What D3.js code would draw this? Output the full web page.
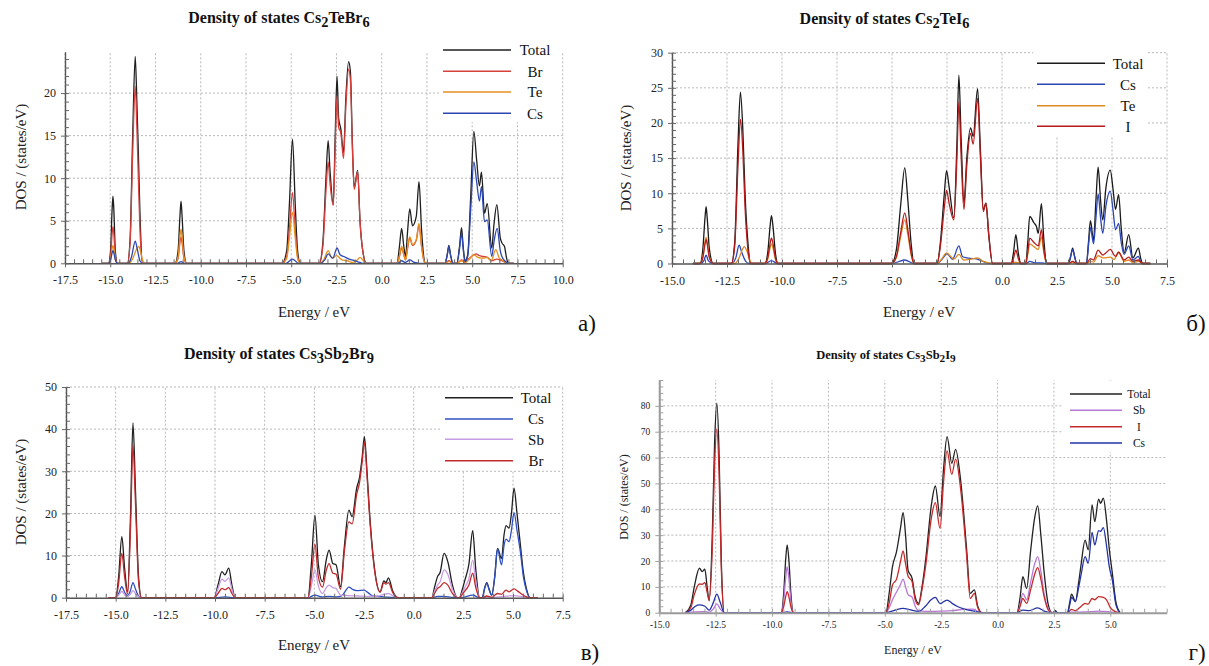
<!DOCTYPE html>
<html>
<head>
<meta charset="utf-8">
<script src="https://cdn.jsdelivr.net/npm/d3@7"></script>
<style>
  html, body { margin: 0; padding: 0; background: #fff; }
  svg { display: block; }
</style>
</head>
<body>
<div id="chart"></div>
<script>
// ---- panel a) Cs2TeBr6 : [energy eV, DOS states/eV]
const totalA = [[-15.45,0],[-15.1,0],[-14.98,1.5],[-14.9,6.2],[-14.85,7.9],[-14.8,6.2],[-14.72,1.5],[-14.6,0],
  [-14.05,0],[-13.9,3],[-13.76,15],[-13.62,24.3],[-13.53,19],[-13.46,14],[-13.36,6],[-13.22,0],
  [-11.42,0],[-11.25,1.5],[-11.15,5.5],[-11.09,7.3],[-11.03,5.5],[-10.93,1.5],[-10.78,0],
  [-5.5,0],[-5.25,1.5],[-5.1,7],[-4.93,14.6],[-4.78,7],[-4.65,1.5],[-4.5,0],
  [-3.45,0],[-3.25,2.5],[-3.08,10],[-2.96,14.4],[-2.86,11],[-2.68,6.9],[-2.57,15],[-2.47,22],[-2.38,17],[-2.26,15.8],[-2.11,13],[-1.98,19.5],[-1.83,23.7],[-1.73,22.5],[-1.62,14],[-1.52,8.9],[-1.33,10.9],[-1.2,5],[-1.05,1.5],[-0.85,0],
  [0.85,0],[0.98,2],[1.1,4.1],[1.22,2],[1.32,0.8],[1.42,3.5],[1.55,6.4],[1.7,4.4],[1.91,5.5],[2.06,9.6],[2.2,4],[2.32,0.8],[2.42,0],
  [3.5,0],[3.62,1],[3.71,2.1],[3.8,1],[3.94,0],[4.15,0],[4.3,2],[4.41,4.2],[4.5,2],[4.6,0.3],[4.75,1],[4.92,8],[5.09,15.5],[5.25,12],[5.4,9.1],[5.51,10.7],[5.68,5.9],[5.83,7.0],[6.08,1.8],[6.2,4.5],[6.36,6.9],[6.55,3],[6.64,2.4],[6.78,2.0],[6.9,0.6],[7.0,0],[7.3,0]];
const brA = [[-15.45,0],[-15.1,0],[-14.98,0.8],[-14.9,3.4],[-14.85,4.3],[-14.8,3.4],[-14.72,0.8],[-14.6,0],
  [-14.05,0],[-13.9,2.5],[-13.76,13],[-13.62,20.8],[-13.53,16],[-13.46,11],[-13.36,4],[-13.22,0],
  [-11.42,0],[-11.25,0.6],[-11.15,2.4],[-11.09,3.1],[-11.03,2.4],[-10.93,0.6],[-10.78,0],
  [-5.5,0],[-5.25,0.8],[-5.1,4],[-4.93,8.3],[-4.78,4],[-4.65,0.8],[-4.5,0],
  [-3.45,0],[-3.25,2],[-3.08,8.5],[-2.96,11.9],[-2.86,9.5],[-2.68,6.8],[-2.57,13.5],[-2.47,19.6],[-2.38,16],[-2.26,15.3],[-2.11,12.3],[-1.98,18.5],[-1.83,22.8],[-1.73,21.5],[-1.62,13.5],[-1.52,8.7],[-1.33,10.8],[-1.2,5],[-1.05,1.5],[-0.85,0],
  [0.85,0],[0.98,0.8],[1.1,1.8],[1.22,1],[1.32,0.4],[1.42,1.6],[1.55,3.0],[1.7,2.1],[1.91,2.7],[2.06,4.5],[2.2,2],[2.32,0.4],[2.42,0],
  [3.5,0],[3.71,0.3],[3.94,0],[4.15,0],[4.41,0.4],[4.6,0.1],[4.8,0.5],[5.09,1.0],[5.2,1.1],[5.4,0.9],[5.6,0.8],[5.83,0.7],[6.08,0.3],[6.36,0.5],[6.64,0.3],[7.0,0],[7.3,0]];
const teA = [[-15.45,0],[-15.1,0],[-14.98,0.5],[-14.9,1.7],[-14.85,2.1],[-14.8,1.7],[-14.72,0.5],[-14.6,0],
  [-13.95,0],[-13.75,0.6],[-13.58,1.5],[-13.42,2.0],[-13.32,1.3],[-13.18,0.2],[-13.08,0],
  [-11.42,0],[-11.25,0.8],[-11.15,3.1],[-11.09,4.0],[-11.03,3.1],[-10.93,0.8],[-10.78,0],
  [-5.5,0],[-5.25,0.6],[-5.1,3],[-4.93,6.0],[-4.78,3],[-4.65,0.6],[-4.5,0],
  [-3.45,0],[-3.2,0.4],[-2.96,1.5],[-2.75,0.6],[-2.5,0.9],[-2.2,0.4],[-1.9,0.3],[-1.6,0.1],[-1.35,0.4],[-1.2,0.7],[-1.05,0.4],[-0.85,0],
  [0.85,0],[0.98,0.9],[1.1,2.0],[1.22,1.0],[1.32,0.4],[1.42,1.8],[1.55,3.1],[1.7,2.2],[1.91,2.8],[2.06,4.7],[2.2,2],[2.32,0.4],[2.42,0],
  [3.5,0],[3.71,0.2],[3.94,0],[4.15,0],[4.41,0.3],[4.6,0.1],[4.85,0.5],[5.09,1.0],[5.3,0.7],[5.6,0.6],[5.83,0.7],[6.05,0.3],[6.3,1.6],[6.5,0.6],[6.64,0.4],[6.8,0.2],[7.0,0],[7.3,0]];
const csA = [[-15.45,0],[-15.1,0],[-14.98,0.4],[-14.9,1.2],[-14.85,1.5],[-14.8,1.2],[-14.72,0.4],[-14.6,0],
  [-14.0,0],[-13.82,0.8],[-13.62,2.6],[-13.5,1.6],[-13.36,0.3],[-13.22,0],
  [-11.3,0],[-11.09,0.2],[-10.9,0],
  [-5.3,0],[-4.93,0.5],[-4.6,0],
  [-3.4,0],[-3.15,0.4],[-2.96,1.1],[-2.7,0.6],[-2.47,1.8],[-2.3,1.0],[-2.1,0.8],[-1.8,0.5],[-1.5,0.3],[-1.2,0.1],[-1.0,0],
  [0.9,0],[1.1,0.3],[1.3,0.1],[1.55,0.4],[1.8,0.1],[2.1,0],
  [3.5,0],[3.62,1],[3.71,2.0],[3.8,1],[3.94,0],[4.15,0],[4.3,1.7],[4.41,3.5],[4.5,1.7],[4.6,0.2],[4.75,0.8],[4.92,6.5],[5.09,11.9],[5.25,9.5],[5.4,7.3],[5.51,9.0],[5.68,4.9],[5.83,5.1],[6.08,0.8],[6.2,2.5],[6.38,4.1],[6.55,1.5],[6.64,0.8],[6.85,0.2],[7.0,0],[7.3,0]];

// ---- panel б) Cs2TeI6
const totalB = [[-14.05,0],[-13.73,0],[-13.6,2],[-13.5,6.5],[-13.45,8.1],[-13.4,6.5],[-13.3,2],[-13.12,0],
  [-12.3,0],[-12.15,3],[-12.0,17],[-11.89,24.4],[-11.78,19],[-11.68,10],[-11.55,3],[-11.42,0],
  [-10.78,0],[-10.65,1.5],[-10.55,5],[-10.48,6.8],[-10.4,5],[-10.3,1.5],[-10.18,0],
  [-5.02,0],[-4.8,2],[-4.6,8.5],[-4.42,13.6],[-4.28,9],[-4.12,2.5],[-4.0,0],
  [-2.95,0],[-2.8,3],[-2.62,10],[-2.52,13.2],[-2.4,10.8],[-2.19,6.5],[-2.05,17],[-1.96,26.8],[-1.86,18],[-1.73,8.6],[-1.6,15],[-1.43,19.3],[-1.31,18.1],[-1.11,24.9],[-0.98,16],[-0.85,7.7],[-0.73,8.6],[-0.6,4],[-0.43,0],
  [0.42,0],[0.52,1.5],[0.63,4.1],[0.74,1.5],[0.86,0],
  [1.08,0],[1.17,3],[1.26,6.7],[1.45,5.8],[1.56,5.3],[1.65,4.3],[1.79,8.5],[1.9,3.5],[2.03,0],
  [3.02,0],[3.12,1],[3.21,2.2],[3.3,1],[3.4,0],
  [3.84,0],[3.93,3],[4.02,6.1],[4.16,3.3],[4.27,9],[4.37,13.7],[4.48,9],[4.58,6.2],[4.72,10.7],[4.92,13.3],[5.05,10.5],[5.16,7.7],[5.3,9.8],[5.42,5],[5.55,1.5],[5.76,4.1],[5.95,0.8],[6.2,2.2],[6.3,0.8],[6.39,0],[6.74,0]];
const csB = [[-14.05,0],[-13.7,0],[-13.55,0.4],[-13.45,1.2],[-13.35,0.4],[-13.15,0],
  [-12.3,0],[-12.1,0.8],[-11.95,2.6],[-11.82,1.5],[-11.65,0.3],[-11.5,0],
  [-10.75,0],[-10.48,0.4],[-10.2,0],
  [-5.0,0],[-4.42,0.5],[-4.0,0],
  [-2.95,0],[-2.7,0.7],[-2.5,1.4],[-2.25,0.6],[-1.96,2.5],[-1.8,1.0],[-1.6,0.8],[-1.3,0.7],[-1.1,0.6],[-0.8,0.2],[-0.5,0],
  [0.45,0],[0.63,0.1],[0.85,0],
  [1.1,0],[1.26,0.3],[1.5,0.1],[1.8,0.1],[2.0,0],
  [3.02,0],[3.12,1],[3.21,2.0],[3.3,1],[3.4,0],
  [3.84,0],[3.93,2.5],[4.02,5.1],[4.16,2.8],[4.27,6.5],[4.37,9.9],[4.48,6.5],[4.58,4.3],[4.72,8.1],[4.92,10.3],[5.05,7.5],[5.16,4.8],[5.3,5.7],[5.42,3],[5.55,1.3],[5.76,2.5],[5.95,0.5],[6.2,1.0],[6.3,0.3],[6.39,0],[6.74,0]];
const teB = [[-14.05,0],[-13.73,0],[-13.6,0.9],[-13.5,3.0],[-13.45,3.7],[-13.4,3.0],[-13.3,0.9],[-13.12,0],
  [-12.15,0],[-11.95,0.8],[-11.8,2.0],[-11.71,2.4],[-11.6,1.8],[-11.45,0.4],[-11.35,0],
  [-10.78,0],[-10.65,0.6],[-10.55,2.1],[-10.48,2.8],[-10.4,2.1],[-10.3,0.6],[-10.18,0],
  [-5.02,0],[-4.8,0.9],[-4.6,3.9],[-4.42,6.2],[-4.28,4.1],[-4.12,1.1],[-4.0,0],
  [-2.95,0],[-2.75,0.6],[-2.52,1.5],[-2.3,0.9],[-2.19,0.6],[-1.96,1.3],[-1.75,0.5],[-1.45,0.6],[-1.11,0.8],[-0.85,0.3],[-0.6,0.1],[-0.43,0],
  [0.42,0],[0.63,0.2],[0.86,0],
  [1.08,0],[1.17,1.3],[1.26,2.8],[1.45,2.4],[1.65,2.0],[1.79,3.8],[1.9,1.6],[2.03,0],
  [3.02,0],[3.21,0.2],[3.4,0],
  [3.84,0],[4.02,0.3],[4.16,0.2],[4.37,1.1],[4.6,0.8],[4.92,0.9],[5.1,0.6],[5.3,1.6],[5.55,0.3],[5.76,0.5],[5.95,0.1],[6.2,0.3],[6.39,0],[6.74,0]];
const iB = [[-14.05,0],[-13.73,0],[-13.6,0.8],[-13.5,2.8],[-13.45,3.4],[-13.4,2.8],[-13.3,0.8],[-13.12,0],
  [-12.3,0],[-12.15,2.5],[-12.0,14],[-11.89,20.5],[-11.78,16],[-11.68,8],[-11.55,2],[-11.42,0],
  [-10.78,0],[-10.65,0.8],[-10.55,2.7],[-10.48,3.6],[-10.4,2.7],[-10.3,0.8],[-10.18,0],
  [-5.02,0],[-4.8,1],[-4.6,4.5],[-4.42,7.2],[-4.28,4.8],[-4.12,1.3],[-4.0,0],
  [-2.95,0],[-2.8,2.5],[-2.62,8],[-2.52,10.4],[-2.4,8.5],[-2.19,6.2],[-2.05,15],[-1.96,23.0],[-1.86,15.5],[-1.73,7.7],[-1.6,14],[-1.43,18.5],[-1.31,17.0],[-1.11,23.5],[-0.98,15],[-0.85,7.4],[-0.73,8.6],[-0.6,4],[-0.43,0],
  [0.42,0],[0.52,0.7],[0.63,1.9],[0.74,0.7],[0.86,0],
  [1.08,0],[1.17,1.6],[1.26,3.6],[1.45,3.0],[1.65,2.5],[1.79,4.8],[1.9,2],[2.03,0],
  [3.02,0],[3.21,0.3],[3.4,0],
  [3.84,0],[4.02,0.7],[4.16,0.5],[4.37,1.9],[4.58,1.2],[4.75,1.6],[4.92,2.0],[5.16,1.0],[5.3,1.6],[5.55,0.5],[5.76,0.9],[5.95,0.3],[6.2,0.5],[6.39,0],[6.74,0]];

// ---- panel в) Cs3Sb2Br9
const totalC = [[-15.38,0],[-15.0,0],[-14.85,5],[-14.69,14.5],[-14.55,7],[-14.4,1.4],[-14.25,20],[-14.13,41.5],[-14.0,25],[-13.85,5],[-13.7,0],
  [-10.04,0],[-9.85,3],[-9.65,6.2],[-9.5,5.4],[-9.31,7.0],[-9.15,3],[-8.98,0],
  [-5.32,0],[-5.15,8],[-4.97,19.6],[-4.8,8],[-4.59,3.8],[-4.4,9],[-4.26,11.3],[-4.07,8.1],[-3.91,7.8],[-3.68,2.6],[-3.49,12.1],[-3.26,20.8],[-3.1,19.2],[-2.87,26],[-2.72,28.7],[-2.6,33],[-2.48,38.2],[-2.35,30],[-2.23,20.8],[-1.94,5.8],[-1.69,1.4],[-1.5,4.0],[-1.4,3.6],[-1.27,4.7],[-1.05,1.5],[-0.79,0],
  [0.91,0],[1.05,2.5],[1.2,5.0],[1.33,6],[1.53,10.5],[1.72,8.5],[1.95,3],[2.2,0],
  [2.3,0],[2.45,2],[2.58,4.2],[2.78,8],[2.97,15.9],[3.12,7],[3.32,0],
  [3.45,0],[3.58,2.5],[3.68,3.6],[3.8,2],[3.93,0.6],[4.08,5],[4.22,11.7],[4.42,9.3],[4.55,15],[4.65,17.1],[4.8,16.5],[4.92,20],[5.05,26.0],[5.2,20],[5.38,12.1],[5.52,6],[5.67,2.2],[5.86,0],[6.25,0]];
const csC = [[-15.38,0],[-15.0,0],[-14.85,1],[-14.69,2.6],[-14.55,1.3],[-14.4,0.4],[-14.25,1.8],[-14.13,3.6],[-14.0,2],[-13.85,0.4],[-13.7,0],
  [-10.0,0],[-9.5,0.2],[-9.0,0],
  [-5.32,0],[-4.97,0.6],[-4.6,0.2],[-4.26,0.3],[-3.9,0.2],[-3.6,0.5],[-3.45,1.5],[-3.26,2.5],[-3.05,1.9],[-2.87,1.7],[-2.5,1.8],[-2.3,1.2],[-2.1,0.5],[-1.8,0.3],[-1.5,0.2],[-1.0,0],
  [0.95,0],[1.2,0.3],[1.5,0.3],[1.9,0.1],[2.2,0],
  [2.4,0],[2.97,0.6],[3.3,0],
  [3.45,0],[3.58,2.3],[3.68,3.4],[3.8,1.8],[3.93,0.6],[4.08,5],[4.22,11.6],[4.42,7.8],[4.55,12.5],[4.65,13.9],[4.8,13.3],[4.92,16],[5.05,20.2],[5.2,16],[5.38,10.5],[5.52,5],[5.67,1.8],[5.86,0],[6.25,0]];
const sbC = [[-15.38,0],[-15.0,0],[-14.85,0.6],[-14.69,1.5],[-14.55,0.7],[-14.4,0.3],[-14.25,0.9],[-14.13,1.7],[-14.0,1],[-13.85,0.2],[-13.7,0],
  [-10.04,0],[-9.85,2.2],[-9.65,4.4],[-9.5,3.9],[-9.31,4.7],[-9.15,2],[-8.98,0],
  [-5.32,0],[-5.15,2.8],[-4.97,6.6],[-4.8,2.8],[-4.59,1.0],[-4.4,2.4],[-4.26,3.0],[-4.07,2.4],[-3.91,2.2],[-3.68,0.6],[-3.3,0.5],[-2.8,0.4],[-2.3,0.3],[-1.8,0.4],[-1.5,0.8],[-1.27,1.0],[-1.0,0.3],[-0.79,0],
  [0.91,0],[1.05,1.5],[1.2,3.0],[1.33,3.8],[1.53,6.6],[1.72,5.5],[1.95,2],[2.2,0],
  [2.3,0],[2.45,1.2],[2.58,2.5],[2.78,4.5],[2.97,8.9],[3.12,4],[3.32,0],
  [3.5,0],[3.68,0.2],[4.0,0.1],[4.5,0.3],[5.05,0.5],[5.4,0.3],[5.86,0],[6.25,0]];
const brC = [[-15.38,0],[-15.0,0],[-14.85,3.5],[-14.69,10.5],[-14.55,5],[-14.4,0.8],[-14.25,17],[-14.13,36.2],[-14.0,22],[-13.85,4],[-13.7,0],
  [-10.04,0],[-9.85,1],[-9.65,2.2],[-9.5,1.9],[-9.31,2.4],[-9.15,1],[-8.98,0],
  [-5.32,0],[-5.15,5],[-4.97,12.7],[-4.8,5],[-4.59,2.5],[-4.4,6.5],[-4.26,8.1],[-4.07,5.8],[-3.91,5.6],[-3.68,2.0],[-3.49,11],[-3.26,18.0],[-3.1,17.5],[-2.87,24.5],[-2.72,27.5],[-2.6,32],[-2.48,37.0],[-2.35,29],[-2.23,20],[-1.94,5.5],[-1.69,1.3],[-1.5,3.6],[-1.4,3.2],[-1.27,3.6],[-1.05,1.2],[-0.79,0],
  [0.91,0],[1.05,1],[1.2,2.2],[1.33,2.6],[1.53,3.6],[1.72,3.0],[1.95,1],[2.2,0],
  [2.3,0],[2.45,0.8],[2.58,1.6],[2.78,3],[2.97,5.8],[3.12,2.5],[3.32,0],
  [3.45,0],[3.68,0.4],[3.93,0.1],[4.22,1.0],[4.42,0.8],[4.65,1.8],[4.8,1.4],[5.05,2.1],[5.25,1.5],[5.45,0.8],[5.67,0.2],[5.86,0],[6.25,0]];

// ---- panel г) Cs3Sb2I9
const totalD = [[-13.84,0],[-13.6,3],[-13.45,10],[-13.22,17.2],[-13.1,15.9],[-12.98,16.8],[-12.88,10],[-12.79,4.6],[-12.65,30],[-12.55,65],[-12.45,81],[-12.35,62],[-12.25,20],[-12.12,0],
  [-9.6,0],[-9.48,8],[-9.4,20],[-9.33,26.2],[-9.25,20],[-9.17,8],[-9.05,0],
  [-4.95,0],[-4.8,8],[-4.66,17.8],[-4.48,23.6],[-4.3,33],[-4.19,38.7],[-4.08,30],[-3.97,16.5],[-3.79,13.3],[-3.65,6],[-3.5,3.6],[-3.35,10],[-3.19,20.4],[-2.93,42],[-2.76,49],[-2.55,37.2],[-2.4,55],[-2.24,68.1],[-2.03,57.8],[-1.86,63.2],[-1.64,51.4],[-1.38,25.5],[-1.21,7.5],[-1.03,8.8],[-0.88,2.5],[-0.69,0],
  [0.86,0],[1.0,6],[1.12,13.9],[1.29,9.4],[1.47,24.3],[1.65,37],[1.78,41.3],[1.92,30],[2.07,15.2],[2.25,3],[2.41,0],
  [2.48,0],[2.55,0.8],[2.65,0],
  [3.1,0],[3.2,4],[3.28,7.2],[3.45,4.3],[3.6,12],[3.71,19],[3.88,28.1],[4.02,24.3],[4.19,41.7],[4.31,35.2],[4.48,43.9],[4.57,42.3],[4.69,44.3],[4.83,35.9],[4.95,25],[5.09,15.2],[5.25,4],[5.43,0]];
const sbD = [[-13.84,0],[-13.4,0.3],[-13.0,0.4],[-12.8,0.2],[-12.6,1.5],[-12.45,3.4],[-12.3,1.5],[-12.12,0],
  [-9.6,0],[-9.48,5],[-9.4,13],[-9.33,17.8],[-9.25,13],[-9.17,5],[-9.05,0],
  [-4.95,0],[-4.8,2],[-4.66,5],[-4.48,8],[-4.3,11],[-4.19,13.0],[-4.08,10],[-3.97,7],[-3.79,6],[-3.65,2.5],[-3.5,0.8],[-3.19,0.5],[-2.5,0.6],[-2.0,0.8],[-1.5,1.3],[-1.1,1.4],[-0.88,0.5],[-0.69,0],
  [0.86,0],[1.0,3],[1.12,7.5],[1.29,5.0],[1.47,12],[1.65,19],[1.78,21.7],[1.92,16],[2.07,7],[2.25,1.5],[2.41,0],
  [3.1,0],[3.28,0.2],[3.9,0.3],[4.5,0.6],[4.9,0.4],[5.2,0.1],[5.43,0]];
const iD = [[-13.84,0],[-13.6,2],[-13.45,7],[-13.22,11.1],[-13.1,11],[-12.98,11.6],[-12.88,8],[-12.79,4.9],[-12.65,25],[-12.55,57],[-12.45,71],[-12.35,54],[-12.25,17],[-12.12,0],
  [-9.6,0],[-9.48,2.5],[-9.4,6],[-9.33,8.1],[-9.25,6],[-9.17,2.5],[-9.05,0],
  [-4.95,0],[-4.8,4],[-4.66,10.7],[-4.48,13],[-4.3,20],[-4.19,23.9],[-4.08,19],[-3.97,14.2],[-3.79,12],[-3.65,5],[-3.5,3],[-3.35,9],[-3.19,18],[-2.93,37],[-2.76,42.6],[-2.55,32.6],[-2.4,50],[-2.24,62.6],[-2.03,53.5],[-1.86,59.4],[-1.64,48],[-1.38,23],[-1.21,5.5],[-1.03,7.5],[-0.88,2],[-0.69,0],
  [0.86,0],[1.0,2.5],[1.12,5.5],[1.29,3.6],[1.47,9],[1.65,15],[1.78,17.4],[1.92,13],[2.07,6],[2.25,1],[2.41,0],
  [3.1,0],[3.28,1.3],[3.45,0.8],[3.71,2.5],[3.88,3.6],[4.02,3.3],[4.19,5.5],[4.31,5],[4.48,6.2],[4.69,5.9],[4.83,5],[5.0,2],[5.2,0.5],[5.43,0]];
const csD = [[-13.84,0],[-13.6,1],[-13.4,2.5],[-13.22,3.0],[-12.98,2.5],[-12.79,1],[-12.6,4],[-12.45,7.2],[-12.3,4],[-12.12,0],
  [-9.6,0],[-9.33,0.3],[-9.05,0],
  [-4.95,0],[-4.6,0.8],[-4.19,1.7],[-3.9,1.2],[-3.5,0.5],[-3.2,2.5],[-2.95,5],[-2.76,5.9],[-2.55,3.5],[-2.24,4.9],[-2.0,3.5],[-1.8,2.5],[-1.5,1.5],[-1.0,0.5],[-0.69,0],
  [0.86,0],[1.12,1.0],[1.4,0.8],[1.78,1.9],[2.1,0.5],[2.41,0],
  [2.48,0],[2.55,0.8],[2.65,0],
  [3.1,0],[3.2,3],[3.28,5.9],[3.45,4.3],[3.6,10],[3.71,15],[3.88,21.7],[4.02,19.1],[4.19,31.1],[4.31,26.2],[4.48,31.7],[4.57,31.5],[4.69,32.9],[4.83,26],[4.95,18],[5.09,12.6],[5.25,3],[5.43,0]];

// tick values
const xTicksAC = [-17.5, -15, -12.5, -10, -7.5, -5, -2.5, 0, 2.5, 5, 7.5, 10];
const xTicksBD = [-15, -12.5, -10, -7.5, -5, -2.5, 0, 2.5, 5, 7.5];
const yTicksA = [0, 5, 10, 15, 20];
const yTicksB = [0, 5, 10, 15, 20, 25, 30];
const yTicksC = [0, 10, 20, 30, 40, 50];
const yTicksD = [0, 10, 20, 30, 40, 50, 60, 70, 80];

const W = 1209, H = 666;
const svg = d3.select("#chart").append("svg").attr("width", W).attr("height", H);
svg.append("rect").attr("width", W).attr("height", H).attr("fill", "#fff");

const SERIF = "'Liberation Serif', 'Times New Roman', serif";

const panels = [
  { L: 65, R: 562.7, B: 263.3, T: 51.7, xDom: [-17.5, 10], yDom: [0, 24.86],
    xTicks: xTicksAC, yTicks: yTicksA, yMinor: 1, fs: 12, pad: 8.5, axisCol: "#555",
    title: [["Density of states Cs", 0], ["2", 1], ["TeBr", 0], ["6", 1]], tx: 279, ty: 23, tfs: 16,
    xl: [314, 317], yl: [21, 157], lfs: 15,
    box: [440, 38, 562, 122], lx: [443, 511], ly: [50, 71.3, 92, 113.3], ltx: 535,
    tag: "a)", tag_xy: [587, 331],
    series: [["Total", totalA, "#1f1f1f"], ["Br", brA, "#d8403c"], ["Te", teA, "#e8901e"], ["Cs", csA, "#2c47b2"]] },
  { L: 672, R: 1167, B: 263.5, T: 52.7, xDom: [-15, 7.5], yDom: [0, 30],
    xTicks: xTicksBD, yTicks: yTicksB, yMinor: 1, fs: 12, pad: 8.5, axisCol: "#555",
    title: [["Density of states Cs", 0], ["2", 1], ["TeI", 0], ["6", 1]], tx: 884.5, ty: 24, tfs: 16,
    xl: [919, 317], yl: [626, 158], lfs: 15,
    box: [1033, 50, 1148, 137], lx: [1037, 1105], ly: [63.3, 84.3, 105.7, 126.3], ltx: 1128,
    tag: "б)", tag_xy: [1196, 331],
    series: [["Total", totalB, "#1a1a1a"], ["Cs", csB, "#2b46b6"], ["Te", teB, "#e08a22"], ["I", iB, "#b51b1b"]] },
  { L: 66, R: 562.7, B: 597.7, T: 387, xDom: [-17.5, 7.5], yDom: [0, 50],
    xTicks: xTicksAC.slice(0, 11), yTicks: yTicksC, yMinor: 2, fs: 12, pad: 8.5, axisCol: "#555",
    title: [["Density of states Cs", 0], ["3", 1], ["Sb", 0], ["2", 1], ["Br", 0], ["9", 1]], tx: 279, ty: 359, tfs: 16,
    xl: [314, 650], yl: [21, 492], lfs: 15,
    box: [442, 389, 562, 470], lx: [445, 513], ly: [397.7, 419, 439.3, 460.7], ltx: 536,
    tag: "в)", tag_xy: [590, 660],
    series: [["Total", totalC, "#1f1f1f"], ["Cs", csC, "#2e50c2"], ["Sb", sbC, "#c89be2"], ["Br", brC, "#c02a2c"]] },
  { L: 659.3, R: 1166.7, B: 612.7, T: 380, xDom: [-15, 7.5], yDom: [0, 90],
    xTicks: xTicksBD.slice(0, 9), yTicks: yTicksD, yMinor: 2.5, fs: 9.5, pad: 5, axisCol: "#9a9a9a",
    title: [["Density of states Cs", 0], ["3", 1], ["Sb", 0], ["2", 1], ["I", 0], ["9", 1]], tx: 886, ty: 359, tfs: 12.5,
    xl: [913, 654], yl: [624, 497], lfs: 12,
    box: [1062, 381, 1166, 452], lx: [1070, 1122], ly: [394, 410.3, 426.7, 443], ltx: 1139, legFs: 11.5,
    tag: "г)", tag_xy: [1197, 660],
    series: [["Total", totalD, "#222222"], ["Sb", sbD, "#b778d6"], ["I", iD, "#c42a2a"], ["Cs", csD, "#2434a6"]] }
];

function drawPanel(p) {
  const g = svg.append("g");
  const x = d3.scaleLinear().domain(p.xDom).range([p.L, p.R]);
  const y = d3.scaleLinear().domain(p.yDom).range([p.B, p.T]);

  // dotted grid
  g.append("g").selectAll("line").data(p.xTicks).join("line")
    .attr("x1", d => x(d)).attr("x2", d => x(d)).attr("y1", p.B).attr("y2", p.T)
    .attr("stroke", "#b8b8b8").attr("stroke-width", 1).attr("stroke-dasharray", "2,2");
  g.append("g").selectAll("line").data(p.yTicks.filter(d => d > 0)).join("line")
    .attr("x1", p.L).attr("x2", p.R).attr("y1", d => y(d)).attr("y2", d => y(d))
    .attr("stroke", "#b8b8b8").attr("stroke-width", 1).attr("stroke-dasharray", "2,2");

  // legend background hides the grid
  g.append("rect").attr("x", p.box[0]).attr("y", p.box[1])
    .attr("width", p.box[2] - p.box[0]).attr("height", p.box[3] - p.box[1]).attr("fill", "#fff");

  // curves
  const line = d3.line().x(d => x(d[0])).y(d => y(d[1])).curve(d3.curveMonotoneX);
  p.series.forEach(s => {
    g.append("path").datum(s[1]).attr("d", line)
      .attr("fill", "none").attr("stroke", s[2]).attr("stroke-width", 1.3)
      .attr("stroke-linejoin", "round");
  });

  // axes
  const xMinor = d3.range(p.xDom[0], p.xDom[1] + 0.001, 0.5);
  const yMinor = d3.range(p.yDom[0], p.yDom[1] + 0.001, p.yMinor);
  const ax = g.append("g").attr("transform", `translate(0,${p.B})`)
    .call(d3.axisBottom(x).tickValues(p.xTicks).tickSizeInner(4).tickSizeOuter(0)
      .tickPadding(p.pad).tickFormat(d => d.toFixed(1)));
  g.append("g").attr("class", "minor").attr("transform", `translate(0,${p.B})`)
    .call(d3.axisBottom(x).tickValues(xMinor).tickSizeInner(-4).tickSizeOuter(0).tickFormat(""))
    .call(s => s.select(".domain").remove());
  const ay = g.append("g").attr("transform", `translate(${p.L},0)`)
    .call(d3.axisLeft(y).tickValues(p.yTicks).tickSizeInner(4).tickSizeOuter(0).tickPadding(5));
  g.append("g").attr("class", "minor").attr("transform", `translate(${p.L},0)`)
    .call(d3.axisLeft(y).tickValues(yMinor).tickSizeInner(-4).tickSizeOuter(0).tickFormat(""))
    .call(s => s.select(".domain").remove());
  g.selectAll(".tick line").attr("stroke", p.axisCol === "#555" ? "#666" : "#a0a0a0");
  [ax, ay].forEach(a => {
    a.select(".domain").attr("stroke", p.axisCol).attr("stroke-width", p.axisCol === "#555" ? 1.4 : 2);
    a.selectAll("text").style("font-family", SERIF).style("font-size", p.fs + "px").attr("fill", "#222");
  });

  // legend
  const lfs = p.legFs || 15;
  p.series.forEach((s, i) => {
    g.append("line").attr("x1", p.lx[0]).attr("x2", p.lx[1]).attr("y1", p.ly[i]).attr("y2", p.ly[i])
      .attr("stroke", s[2]).attr("stroke-width", 1.6);
    g.append("text").attr("x", p.ltx).attr("y", p.ly[i]).attr("dy", "0.35em")
      .attr("text-anchor", "middle").style("font-family", SERIF).style("font-size", lfs + "px")
      .attr("fill", "#111").text(s[0]);
  });

  // title with subscripts
  const t = g.append("text").attr("x", p.tx).attr("y", p.ty).attr("text-anchor", "middle")
    .style("font-family", SERIF).attr("font-weight", "bold").style("font-size", p.tfs + "px").attr("fill", "#111");
  let shifted = false;
  p.title.forEach(seg => {
    const ts = t.append("tspan").text(seg[0]);
    if (seg[1] && !shifted) { ts.attr("dy", p.tfs * 0.22).style("font-size", (p.tfs * 0.9) + "px"); shifted = true; }
    else if (seg[1]) { ts.style("font-size", (p.tfs * 0.9) + "px"); }
    else if (shifted) { ts.attr("dy", -p.tfs * 0.22); shifted = false; }
  });

  // axis titles
  g.append("text").attr("x", p.xl[0]).attr("y", p.xl[1]).attr("text-anchor", "middle")
    .style("font-family", SERIF).style("font-size", p.lfs + "px").attr("fill", "#222").text("Energy / eV");
  g.append("text").attr("transform", `translate(${p.yl[0]},${p.yl[1]}) rotate(-90)`)
    .attr("dy", "0.35em").attr("text-anchor", "middle")
    .style("font-family", SERIF).style("font-size", p.lfs + "px").attr("fill", "#222").text("DOS / (states/eV)");

  // panel letter
  g.append("text").attr("x", p.tag_xy[0]).attr("y", p.tag_xy[1]).attr("text-anchor", "middle")
    .style("font-family", SERIF).style("font-size", "23px").attr("fill", "#111").text(p.tag);
}

panels.forEach(drawPanel);
</script>
</body>
</html>
